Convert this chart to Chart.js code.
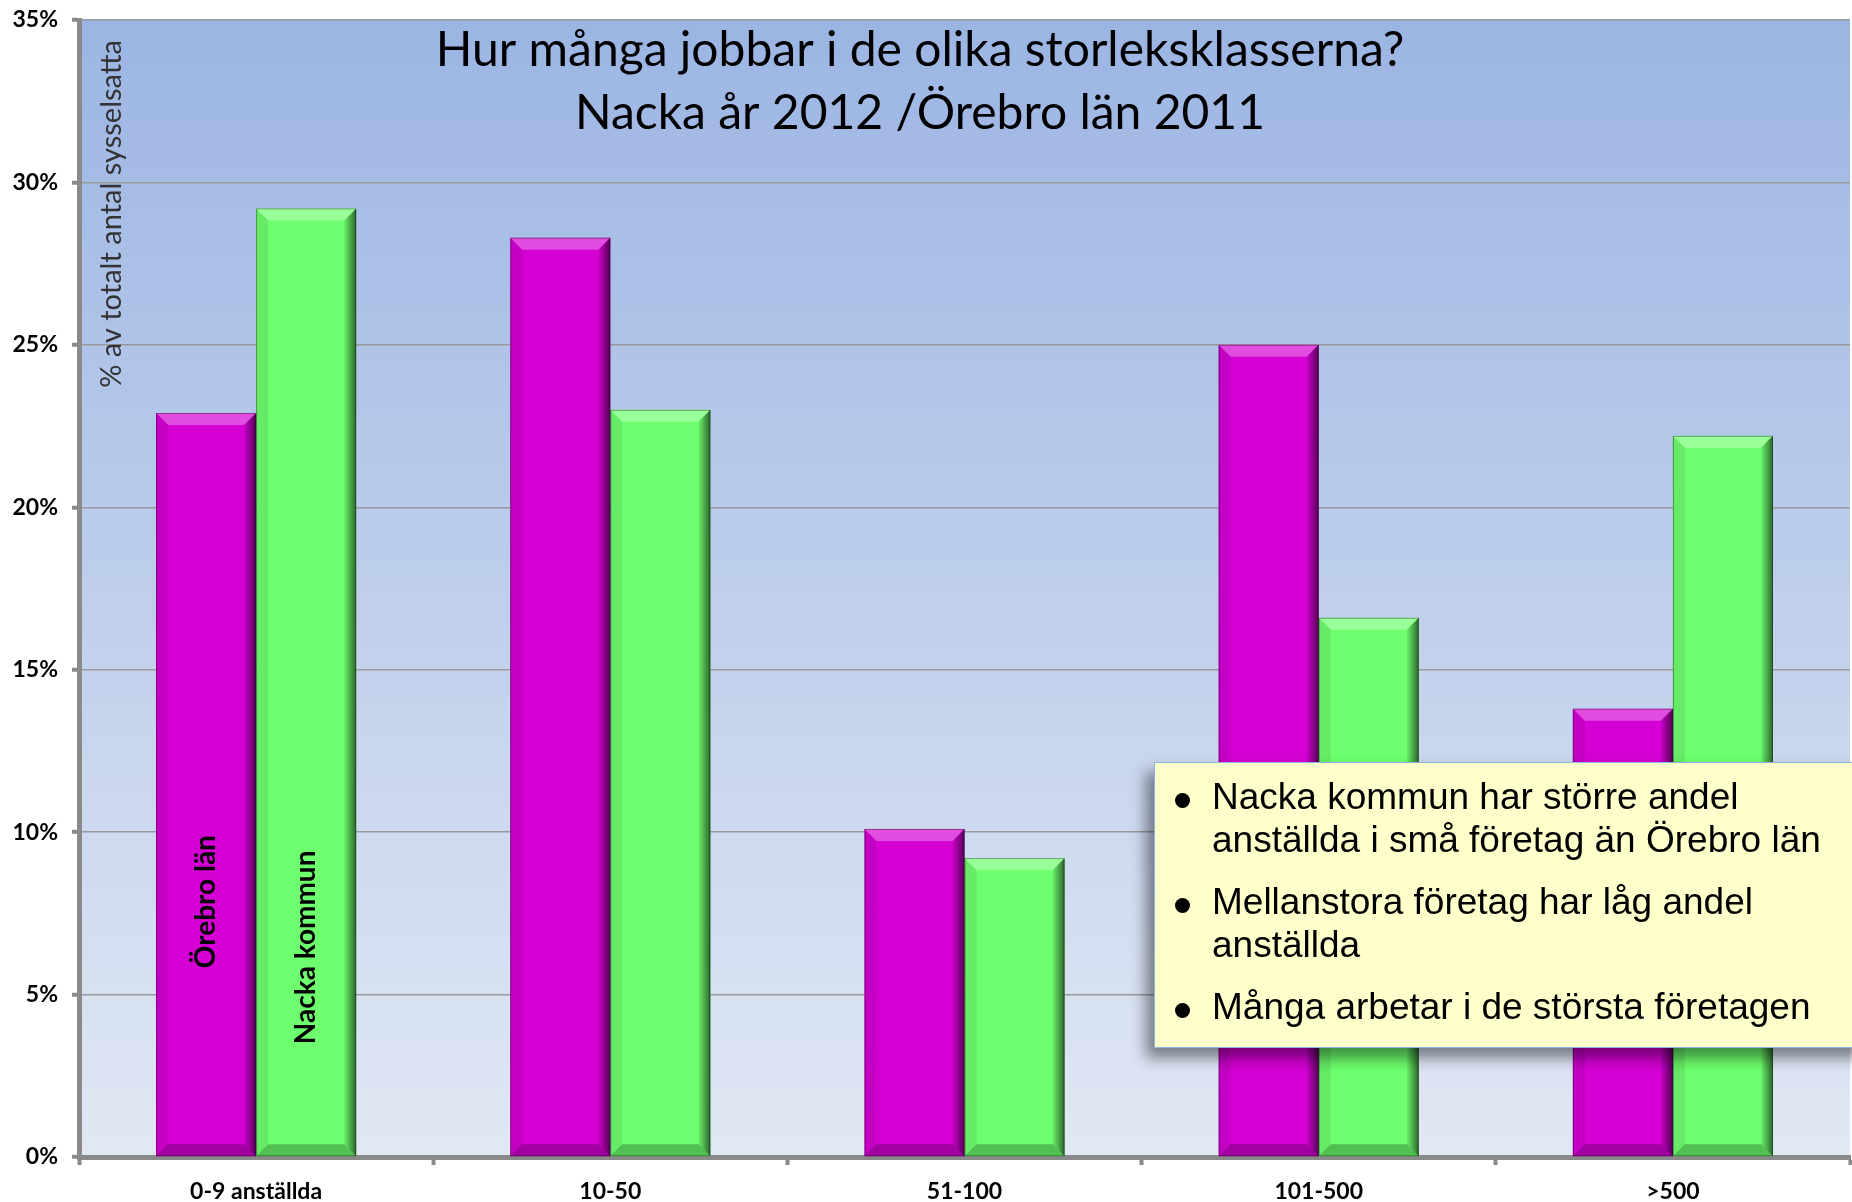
<!DOCTYPE html>
<html>
<head>
<meta charset="utf-8">
<script src="https://cdn.jsdelivr.net/npm/chart.js@4.4.0/dist/chart.umd.min.js"></script>
<style>
html, body { margin: 0; padding: 0; background: #fff; overflow: hidden; }
#wrap { position: relative; width: 1852px; height: 1202px; }
#note {
    position: absolute; left: 1154px; top: 762px; width: 720px; height: 286px;
    box-sizing: border-box; background: #FFFFCC; border: 1.5px solid #8DB3E2;
    box-shadow: -8px 10px 14px rgba(0, 0, 0, 0.45);
    font-family: "Liberation Sans", Arial, sans-serif; font-size: 37px; line-height: 43px;
    color: #000; padding-top: 12px;
}
#note .item { position: relative; padding-left: 57px; margin-bottom: 19px; }
#note .item::before {
    content: ""; position: absolute; left: 20px; top: 18px; width: 15px; height: 15px;
    border-radius: 50%; background: #000;
}
</style>
</head>
<body>
<div id="wrap">
    <canvas id="chart"></canvas>
    <div id="note"></div>
</div>
<script>
const categories = ["0-9 anställda", "10-50", "51-100", "101-500", ">500"];
const orebroLan = [22.9, 28.3, 10.1, 25.0, 13.8];
const nackaKommun = [29.2, 23.0, 9.2, 16.6, 22.2];
const seriesNames = ["Örebro län", "Nacka kommun"];
const titleLines = ["Hur många jobbar i de olika storleksklasserna?", "Nacka år 2012 /Örebro län 2011"];
const yAxisTitle = "% av totalt antal sysselsatta";
const noteLines = [
    ["Nacka kommun har större andel", "anställda i små företag än Örebro län"],
    ["Mellanstora företag har låg andel", "anställda"],
    ["Många arbetar i de största företagen"]
];

const COLOR_OREBRO = "#D400D4";
const COLOR_NACKA = "#6EFF6E";
const COLOR_AXIS = "#8a8a8a";

// text box
let note = document.getElementById("note");
noteLines.forEach(lines => {
    let d = document.createElement("div");
    d.className = "item";
    d.innerHTML = lines.join("<br>");
    note.appendChild(d);
});

// plot background gradient
const plotBg = {
    id: "plotBg",
    beforeDraw(chart) {
        let a = chart.chartArea, ctx = chart.ctx;
        let g = ctx.createLinearGradient(0, a.top, 0, a.bottom);
        g.addColorStop(0, "#9BB5E3");
        g.addColorStop(1, "#E1E8F4");
        ctx.save();
        ctx.fillStyle = g;
        ctx.fillRect(a.left, a.top, a.right - a.left, a.bottom - a.top);
        ctx.restore();
    }
};

function poly(ctx, pts, fill) {
    ctx.beginPath();
    ctx.moveTo(pts[0][0], pts[0][1]);
    for (let i = 1; i < pts.length; i++) ctx.lineTo(pts[i][0], pts[i][1]);
    ctx.closePath();
    ctx.fillStyle = fill;
    ctx.fill();
}

// bevelled look of the bars
const bevel = {
    id: "bevel",
    afterDatasetsDraw(chart) {
        let ctx = chart.ctx;
        chart.data.datasets.forEach((ds, i) => {
            chart.getDatasetMeta(i).data.forEach(bar => {
                let p = bar.getProps(["x", "y", "base", "width"], true);
                let L = p.x - p.width / 2, R = p.x + p.width / 2, T = p.y, B = p.base;
                let b = 12;
                ctx.save();
                poly(ctx, [[L, T], [R, T], [R - b, T + b], [L + b, T + b]], "rgba(255,255,255,0.3)");
                let g = ctx.createLinearGradient(R - b, 0, R, 0);
                g.addColorStop(0, "rgba(0,0,0,0.05)");
                g.addColorStop(1, "rgba(0,0,0,0.6)");
                poly(ctx, [[R, T], [R, B], [R - b, B - b], [R - b, T + b]], g);
                poly(ctx, [[L, B], [R, B], [R - b, B - b], [L + b, B - b]], "rgba(0,0,0,0.25)");
                poly(ctx, [[L, T], [L + b, T + b], [L + b, B - b], [L, B]], "rgba(0,0,0,0.08)");
                ctx.strokeStyle = "rgba(0,0,0,0.35)";
                ctx.lineWidth = 1;
                ctx.strokeRect(L + 0.5, T + 0.5, R - L - 1, B - T - 1);
                ctx.restore();
            });
        });
    }
};

// title, axis title and the series names inside the first bars
const texts = {
    id: "texts",
    afterDraw(chart) {
        let ctx = chart.ctx, a = chart.chartArea;
        ctx.save();
        ctx.fillStyle = "#000";
        ctx.textAlign = "center";
        ctx.textBaseline = "alphabetic";
        ctx.font = "48px Lato";
        ctx.fillText(titleLines[0], 920, 66);
        ctx.fillText(titleLines[1], 920, 129);

        ctx.save();
        ctx.translate(121, a.top + 20);
        ctx.rotate(-Math.PI / 2);
        ctx.textAlign = "right";
        ctx.font = "29px Lato";
        ctx.fillStyle = "#333";
        ctx.fillText(yAxisTitle, 0, 0);
        ctx.restore();

        let offsets = [188, 112];
        chart.data.datasets.forEach((ds, i) => {
            let bar = chart.getDatasetMeta(i).data[0];
            ctx.save();
            ctx.translate(bar.x, bar.base - offsets[i]);
            ctx.rotate(-Math.PI / 2);
            ctx.textAlign = "left";
            ctx.textBaseline = "middle";
            ctx.font = "bold 28px Lato";
            ctx.fillStyle = "#000";
            ctx.fillText(seriesNames[i], 0, 0);
            ctx.restore();
        });
        ctx.restore();
    }
};

let chart = new Chart(document.getElementById("chart"), {
    type: "bar",
    data: {
        labels: categories,
        datasets: [
            { label: seriesNames[0], data: orebroLan, backgroundColor: COLOR_OREBRO, borderWidth: 0 },
            { label: seriesNames[1], data: nackaKommun, backgroundColor: COLOR_NACKA, borderWidth: 0 }
        ]
    },
    options: {
        responsive: true,
        maintainAspectRatio: false,
        animation: false,
        layout: { padding: { top: 20, right: 2, left: 0, bottom: 0 } },
        datasets: { bar: { categoryPercentage: 0.565, barPercentage: 1.0 } },
        plugins: { legend: { display: false }, tooltip: { enabled: false } },
        scales: {
            x: {
                grid: { drawOnChartArea: false, tickLength: 8, tickWidth: 4, tickColor: COLOR_AXIS },
                border: { display: true, width: 5, color: COLOR_AXIS },
                ticks: { color: "#000", font: { family: "Lato", weight: "bold", size: 23 }, padding: 13 },
                afterFit(s) { s.height = 45; s.paddingLeft = 0; s.paddingRight = 0; }
            },
            y: {
                min: 0, max: 35,
                grid: { color: "#999", lineWidth: 1.5, tickLength: 7, tickWidth: 4, tickColor: COLOR_AXIS },
                border: { display: true, width: 5, color: COLOR_AXIS },
                ticks: { stepSize: 5, color: "#000", font: { family: "Lato", weight: "bold", size: 23 }, padding: 14,
                    callback: v => v + "%" },
                afterFit(s) { s.width = 79; s.paddingTop = 0; s.paddingBottom = 0; }
            }
        }
    },
    plugins: [plotBg, bevel, texts]
});
</script>
</body>
</html>
